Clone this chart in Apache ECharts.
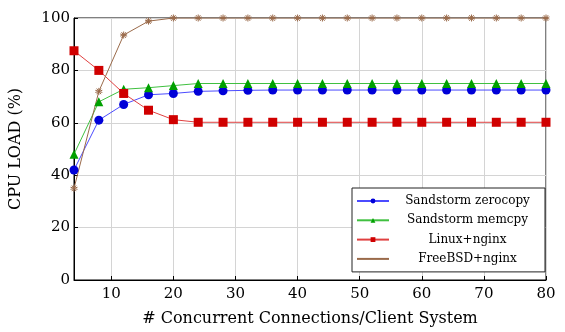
<!DOCTYPE html>
<html><head><meta charset="utf-8">
<script src="https://cdn.jsdelivr.net/npm/echarts@6/dist/echarts.min.js"></script>
<style>html,body{margin:0;padding:0;background:#fff}#c{width:565px;height:332px}</style>
</head><body><div id="c"></div>
<script>
const connections = [4,8,12,16,20,24,28,32,36,40,44,48,52,56,60,64,68,72,76,80];
const zerocopy = [42,61,67,70.7,71.2,72,72.2,72.4,72.5,72.5,72.5,72.5,72.5,72.5,72.5,72.5,72.5,72.5,72.5,72.5];
const memcpy   = [48,68,72.8,73.4,74.2,75,75,75,75,75,75,75,75,75,75,75,75,75,75,75];
const linux    = [87.5,80,71.2,64.8,61.2,60.2,60.2,60.2,60.2,60.2,60.2,60.2,60.2,60.2,60.2,60.2,60.2,60.2,60.2,60.2];
const freebsd  = [35,72,93.5,98.8,100,100,100,100,100,100,100,100,100,100,100,100,100,100,100,100];
const xTicks = [10,20,30,40,50,60,70,80];
const yTicks = [0,20,40,60,80,100];
const seriesNames = ['Sandstorm zerocopy','Sandstorm memcpy','Linux+nginx','FreeBSD+nginx'];

const font = 'DejaVu Serif';
const star = 'path://M0,-10L0,10M-9.5,-3.1L9.5,3.1M-9.5,3.1L9.5,-3.1M-5.9,8.1L5.9,-8.1M5.9,8.1L-5.9,-8.1';
function pairs(ys){return connections.map((x,i)=>[x,ys[i]]);}
const chart = echarts.init(document.getElementById('c'));
chart.setOption({
  animation:false,
  textStyle:{fontFamily:font},
  grid:{left:70,right:19,top:18,bottom:52,show:true,borderColor:'#000',borderWidth:1},
  xAxis:{type:'value',min:4,max:80,
    name:'# Concurrent Connections/Client System',nameLocation:'middle',nameGap:31,
    nameTextStyle:{fontFamily:font,fontSize:16,color:'#000'},
    axisLine:{show:true,onZero:false,lineStyle:{color:'#000',width:1}},
    axisTick:{show:true,inside:true,length:4,customValues:xTicks,lineStyle:{color:'#000'}},
    axisLabel:{customValues:xTicks,fontFamily:font,fontSize:15,color:'#000',margin:7},
    splitLine:{show:true,lineStyle:{color:'#d4d4d4',width:1}}
  },
  yAxis:{type:'value',min:0,max:100,interval:20,
    name:'CPU LOAD (%)',nameLocation:'middle',nameGap:50,
    nameTextStyle:{fontFamily:font,fontSize:16,color:'#000'},
    axisLine:{show:true,onZero:false,lineStyle:{color:'#000',width:1}},
    axisTick:{show:true,inside:true,length:4,lineStyle:{color:'#000'}},
    axisLabel:{fontFamily:font,fontSize:15,color:'#000',margin:4},
    splitLine:{show:true,lineStyle:{color:'#d4d4d4',width:1}}
  },
  legend:{left:352,top:188,orient:'vertical',
    backgroundColor:'#fff',borderColor:'#222',borderWidth:1,
    padding:[6,4,6,4],itemGap:5.3,itemWidth:32,itemHeight:6,
    data:[
      {name:seriesNames[0]},
      {name:seriesNames[1]},
      {name:seriesNames[2]},
      {name:seriesNames[3],itemStyle:{borderWidth:0}}
    ],
    formatter:n=>'{c|'+n+'}',
    textStyle:{fontFamily:font,fontSize:12,color:'#000',
      rich:{c:{width:147,height:14,lineHeight:14,align:'center',fontFamily:font,fontSize:12,color:'#000'}}}
  },
  series:[
    {name:seriesNames[0],type:'line',data:pairs(zerocopy),symbol:'circle',symbolSize:9,
      lineStyle:{color:'#4b4bff',width:1},itemStyle:{color:'#0000d8'}},
    {name:seriesNames[1],type:'line',data:pairs(memcpy),symbol:'triangle',symbolSize:9,
      lineStyle:{color:'#40c040',width:1},itemStyle:{color:'#00a000'}},
    {name:seriesNames[2],type:'line',data:pairs(linux),symbol:'rect',symbolSize:9,
      lineStyle:{color:'#e04040',width:1},itemStyle:{color:'#d00000'}},
    {name:seriesNames[3],type:'line',data:pairs(freebsd),symbol:star,symbolSize:7,
      lineStyle:{color:'#9a6a4a',width:1},itemStyle:{color:'transparent',borderColor:'#9a6a4a',borderWidth:1}}
  ]
});
</script></body></html>
